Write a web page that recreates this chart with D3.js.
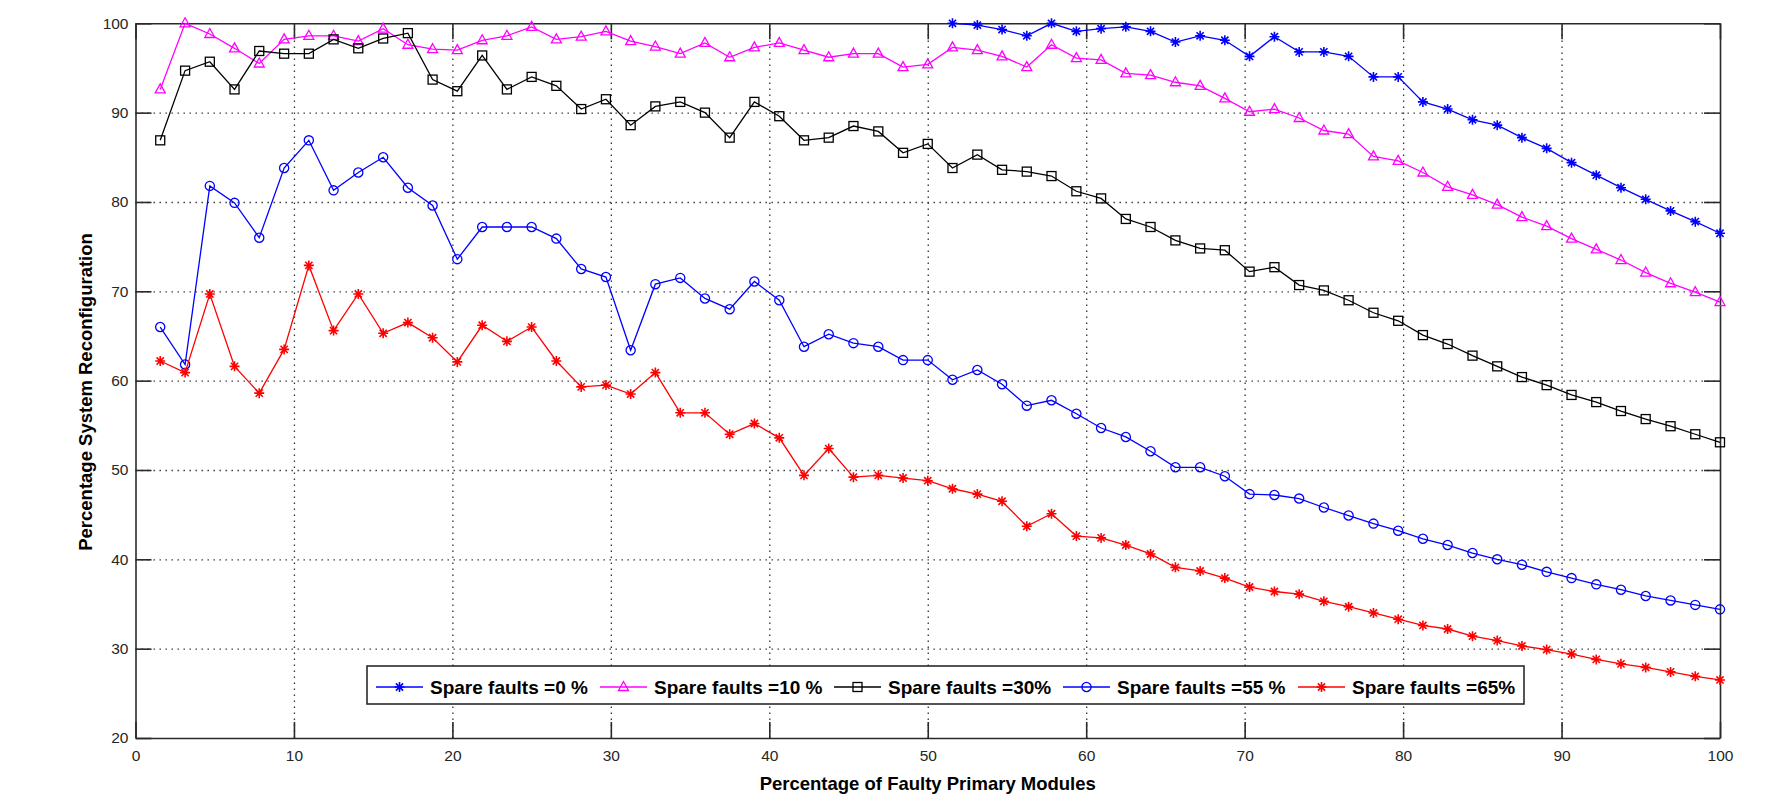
<!DOCTYPE html>
<html>
<head>
<meta charset="utf-8">
<script src="https://cdn.jsdelivr.net/npm/d3@7"></script>
<style>
  body { margin: 0; background: #fff; }
  text { font-family: "Liberation Sans", Arial, Helvetica, sans-serif; }
</style>
</head>
<body>
<svg id="chart"></svg>
<script>
// x values: percentage of faulty primary modules
const xVals = [1.56, 3.13, 4.69, 6.25, 7.81, 9.38, 10.94, 12.5, 14.06, 15.63, 17.19, 18.75, 20.31, 21.88, 23.44, 25,
  26.56, 28.13, 29.69, 31.25, 32.81, 34.38, 35.94, 37.5, 39.06, 40.63, 42.19, 43.75, 45.31, 46.88, 48.44, 50,
  51.56, 53.13, 54.69, 56.25, 57.81, 59.38, 60.94, 62.5, 64.06, 65.63, 67.19, 68.75, 70.31, 71.88, 73.44, 75,
  76.56, 78.13, 79.69, 81.25, 82.81, 84.38, 85.94, 87.5, 89.06, 90.63, 92.19, 93.75, 95.31, 96.88, 98.44, 100];

const spare0 = [null, null, null, null, null, null, null, null, null, null, null, null, null, null, null, null,
  null, null, null, null, null, null, null, null, null, null, null, null, null, null, null, null,
  100, 99.8, 99.3, 98.6, 100, 99.1, 99.4, 99.6, 99.1, 97.9, 98.6, 98.1, 96.3, 98.5, 96.8, 96.8,
  96.3, 94.0, 94.0, 91.2, 90.4, 89.2, 88.6, 87.2, 86.0, 84.4, 83.0, 81.6, 80.3, 79.0, 77.8, 76.5];

const spare10 = [92.6, 100, 98.8, 97.2, 95.5, 98.2, 98.6, 98.6, 98.0, 99.4, 97.6, 97.1, 97.0, 98.1, 98.6, 99.6,
  98.2, 98.5, 99.1, 98.0, 97.4, 96.6, 97.8, 96.2, 97.3, 97.8, 97.0, 96.2, 96.6, 96.6, 95.1, 95.4,
  97.3, 97.0, 96.3, 95.1, 97.6, 96.1, 95.9, 94.4, 94.2, 93.4, 93.0, 91.6, 90.1, 90.4, 89.4, 88.0,
  87.6, 85.1, 84.6, 83.3, 81.7, 80.8, 79.7, 78.3, 77.3, 75.9, 74.7, 73.5, 72.1, 70.9, 69.9, 68.8];

const spare30 = [86.9, 94.7, 95.7, 92.6, 96.9, 96.6, 96.6, 98.2, 97.2, 98.3, 98.9, 93.7, 92.4, 96.4, 92.6, 94.0,
  93.0, 90.4, 91.5, 88.6, 90.7, 91.2, 90.0, 87.2, 91.2, 89.6, 86.9, 87.2, 88.5, 87.9, 85.5, 86.5,
  83.8, 85.3, 83.6, 83.4, 82.9, 81.2, 80.4, 78.1, 77.2, 75.7, 74.8, 74.6, 72.2, 72.7, 70.7, 70.1,
  69.0, 67.6, 66.7, 65.1, 64.1, 62.8, 61.6, 60.4, 59.5, 58.4, 57.6, 56.6, 55.7, 54.9, 54.0, 53.1];

const spare55 = [66.0, 61.8, 81.8, 79.9, 76.0, 83.8, 86.9, 81.3, 83.3, 85.0, 81.6, 79.6, 73.6, 77.2, 77.2, 77.2,
  75.9, 72.5, 71.6, 63.4, 70.8, 71.5, 69.2, 68.0, 71.1, 69.0, 63.8, 65.2, 64.2, 63.8, 62.3, 62.3,
  60.1, 61.2, 59.6, 57.2, 57.8, 56.3, 54.7, 53.7, 52.1, 50.3, 50.3, 49.3, 47.3, 47.2, 46.8, 45.8,
  44.9, 44.0, 43.2, 42.3, 41.6, 40.7, 40.0, 39.4, 38.6, 37.9, 37.2, 36.6, 35.9, 35.4, 34.9, 34.4];

const spare65 = [62.2, 60.9, 69.7, 61.6, 58.6, 63.5, 72.9, 65.6, 69.7, 65.3, 66.5, 64.8, 62.1, 66.2, 64.4, 66.0,
  62.2, 59.3, 59.5, 58.5, 60.9, 56.4, 56.4, 54.0, 55.2, 53.6, 49.4, 52.4, 49.2, 49.4, 49.1, 48.8,
  47.9, 47.3, 46.5, 43.7, 45.1, 42.6, 42.4, 41.6, 40.6, 39.1, 38.7, 37.9, 36.9, 36.4, 36.1, 35.3,
  34.7, 34.0, 33.3, 32.6, 32.2, 31.4, 30.9, 30.3, 29.9, 29.4, 28.8, 28.3, 27.9, 27.4, 26.9, 26.5];

const seriesNames = ["Spare faults =0 %", "Spare faults =10 %", "Spare faults =30%", "Spare faults =55 %", "Spare faults =65%"];
const xTicks = [0, 10, 20, 30, 40, 50, 60, 70, 80, 90, 100];
const yTicks = [20, 30, 40, 50, 60, 70, 80, 90, 100];

const series = [
  { name: seriesNames[0], values: spare0, color: "#0000ff", marker: "star" },
  { name: seriesNames[1], values: spare10, color: "#ff00ff", marker: "triangle" },
  { name: seriesNames[2], values: spare30, color: "#000000", marker: "square" },
  { name: seriesNames[3], values: spare55, color: "#0000ff", marker: "circle" },
  { name: seriesNames[4], values: spare65, color: "#ff0000", marker: "star" }
];

const width = 1774, height = 794;
const plotL = 135.5, plotR = 1720, plotT = 23.3, plotB = 738;

const svg = d3.select("#chart").attr("width", width).attr("height", height);
svg.append("rect").attr("width", width).attr("height", height).attr("fill", "#fff");

const x = d3.scaleLinear().domain([0, 100]).range([plotL, plotR]);
const y = d3.scaleLinear().domain([20, 100]).range([plotB, plotT]);

// dotted grid
svg.append("g")
  .attr("transform", "translate(0," + plotB + ")")
  .call(d3.axisBottom(x).tickValues(xTicks.slice(1, -1)).tickSize(-(plotB - plotT)).tickFormat(""))
  .call(g => g.select(".domain").remove())
  .selectAll("line")
  .attr("stroke", "#333").attr("stroke-width", 1.3).attr("stroke-dasharray", "1.4,4.6");

svg.append("g")
  .attr("transform", "translate(" + plotL + ",0)")
  .call(d3.axisLeft(y).tickValues(yTicks.slice(1, -1)).tickSize(-(plotR - plotL)).tickFormat(""))
  .call(g => g.select(".domain").remove())
  .selectAll("line")
  .attr("stroke", "#333").attr("stroke-width", 1.3).attr("stroke-dasharray", "1.4,4.6");

// box with inside ticks on all sides
const tickLen = 16;
const axisStyle = g => {
  g.select(".domain").attr("stroke", "#2a2a2a").attr("stroke-width", 1.6);
  g.selectAll(".tick line").attr("stroke", "#2a2a2a").attr("stroke-width", 1.6);
};

svg.append("g")
  .attr("transform", "translate(0," + plotB + ")")
  .call(d3.axisBottom(x).tickValues(xTicks).tickSizeInner(-tickLen).tickSizeOuter(0).tickPadding(12))
  .call(axisStyle)
  .selectAll("text")
  .attr("fill", "#262626").style("font-size", "15.5px").attr("dy", "0.71em");

svg.append("g")
  .attr("transform", "translate(0," + plotT + ")")
  .call(d3.axisTop(x).tickValues(xTicks).tickSizeInner(-tickLen).tickSizeOuter(0).tickFormat(""))
  .call(axisStyle);

svg.append("g")
  .attr("transform", "translate(" + plotL + ",0)")
  .call(d3.axisLeft(y).tickValues(yTicks).tickSizeInner(-tickLen).tickSizeOuter(0).tickPadding(7))
  .call(axisStyle)
  .selectAll("text")
  .attr("fill", "#262626").style("font-size", "15.5px");

svg.append("g")
  .attr("transform", "translate(" + plotR + ",0)")
  .call(d3.axisRight(y).tickValues(yTicks).tickSizeInner(-tickLen).tickSizeOuter(0).tickFormat(""))
  .call(axisStyle);

// axis titles
svg.append("text")
  .attr("x", (plotL + plotR) / 2)
  .attr("y", 789.5)
  .attr("text-anchor", "middle")
  .style("font-size", "18.5px").style("font-weight", "bold")
  .text("Percentage of Faulty Primary Modules");

svg.append("text")
  .attr("transform", "translate(92,392) rotate(-90)")
  .attr("text-anchor", "middle")
  .style("font-size", "18.5px").style("font-weight", "bold")
  .text("Percentage System Reconfiguration");

// marker shapes
function drawMarker(g, type, color) {
  if (type === "star") {
    g.append("path")
      .attr("d", "M-5,0L5,0M0,-5L0,5M-3.6,-3.6L3.6,3.6M-3.6,3.6L3.6,-3.6")
      .attr("stroke", color).attr("stroke-width", 1.6).attr("fill", "none");
  } else if (type === "triangle") {
    g.append("path")
      .attr("d", "M0,-5.5L5,3.5L-5,3.5Z")
      .attr("stroke", color).attr("stroke-width", 1.3).attr("fill", "none");
  } else if (type === "square") {
    g.append("rect")
      .attr("x", -4.5).attr("y", -4.5).attr("width", 9).attr("height", 9)
      .attr("stroke", color).attr("stroke-width", 1.3).attr("fill", "none");
  } else {
    g.append("circle")
      .attr("r", 4.6)
      .attr("stroke", color).attr("stroke-width", 1.3).attr("fill", "none");
  }
}

const line = d3.line()
  .defined(d => d[1] != null)
  .x(d => x(d[0]))
  .y(d => y(d[1]));

series.forEach(s => {
  const pts = xVals.map((v, i) => [v, s.values[i]]);
  svg.append("path")
    .datum(pts)
    .attr("d", line)
    .attr("fill", "none")
    .attr("stroke", s.color)
    .attr("stroke-width", 1.3);

  svg.append("g")
    .selectAll("g")
    .data(pts.filter(d => d[1] != null))
    .enter()
    .append("g")
    .attr("transform", d => "translate(" + x(d[0]) + "," + y(d[1]) + ")")
    .each(function () { drawMarker(d3.select(this), s.marker, s.color); });
});

// legend
const legendX = [376, 600, 834, 1063, 1298];
const legend = svg.append("g");
legend.append("rect")
  .attr("x", 367).attr("y", 666).attr("width", 1157).attr("height", 38)
  .attr("fill", "#fff").attr("stroke", "#2a2a2a").attr("stroke-width", 1.6);

series.forEach((s, i) => {
  const item = legend.append("g").attr("transform", "translate(" + legendX[i] + ",687)");
  item.append("line")
    .attr("x1", 0).attr("x2", 47)
    .attr("stroke", s.color).attr("stroke-width", 1.3);
  drawMarker(item.append("g").attr("transform", "translate(23.5,0)"), s.marker, s.color);
  item.append("text")
    .attr("x", 54).attr("y", 7)
    .style("font-size", "19px").style("font-weight", "bold")
    .text(s.name);
});
</script>
</body>
</html>
